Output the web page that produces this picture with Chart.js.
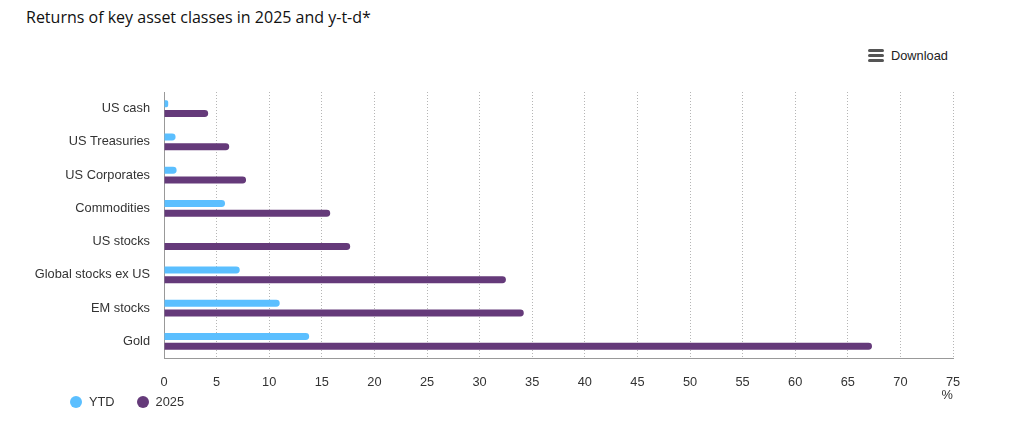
<!DOCTYPE html>
<html>
<head>
<meta charset="utf-8">
<script src="https://cdn.jsdelivr.net/npm/chart.js@4"></script>
<style>
  html, body { margin: 0; padding: 0; background: #fff; }
  body { width: 1017px; height: 434px; position: relative; overflow: hidden; }
  #title { position: absolute; left: 26px; top: 6px; font-family: "Open Sans", sans-serif; font-size: 16px; color: #111; white-space: nowrap; }
  #download { position: absolute; left: 868px; top: 48px; font-family: "Liberation Sans", Arial, sans-serif; font-size: 12.8px; color: #222; display: flex; align-items: center; }
  #download .icon { width: 16px; height: 13px; margin-right: 7px; display: flex; flex-direction: column; justify-content: space-between; }
  #download .icon span { display: block; height: 3px; background: #555; border-radius: 1.5px; }
  #wrap { position: absolute; left: 0; top: 0; width: 1017px; height: 434px; }
  #legend { position: absolute; left: 70px; top: 394px; font-family: "Liberation Sans", Arial, sans-serif; font-size: 12.8px; color: #333; display: flex; }
  .li { display: flex; align-items: center; margin-right: 22px; }
  .dot { width: 12px; height: 12px; border-radius: 50%; margin-right: 7px; }
</style>
</head>
<body>
<div id="title">Returns of key asset classes in 2025 and y-t-d*</div>
<div id="download"><div class="icon"><span></span><span></span><span></span></div>Download</div>
<div id="wrap"><canvas id="c" width="1017" height="434"></canvas></div>
<div id="legend"></div>
<script>
const categories = ["US cash", "US Treasuries", "US Corporates", "Commodities", "US stocks", "Global stocks ex US", "EM stocks", "Gold"];
const ytdValues = [0.4, 1.1, 1.2, 5.8, 0, 7.2, 11.0, 13.8];
const y2025Values = [4.2, 6.2, 7.8, 15.8, 17.7, 32.5, 34.2, 67.3];
const seriesNames = ["YTD", "2025"];
const seriesColors = ["#5bbfff", "#653a7a"];
const xTicks = [0, 5, 10, 15, 20, 25, 30, 35, 40, 45, 50, 55, 60, 65, 70, 75];
const unitLabel = "%";

const tickFont = { family: "'Liberation Sans', Arial, sans-serif", size: 12.8 };

new Chart(document.getElementById('c'), {
  type: 'bar',
  data: {
    labels: categories,
    datasets: [
      { label: seriesNames[0], data: ytdValues, backgroundColor: seriesColors[0] },
      { label: seriesNames[1], data: y2025Values, backgroundColor: seriesColors[1] }
    ]
  },
  options: {
    indexAxis: 'y',
    responsive: false,
    animation: false,
    devicePixelRatio: 1,
    layout: { padding: { left: 0, top: 92, right: 64, bottom: 31 } },
    datasets: {
      bar: { categoryPercentage: 0.6, barPercentage: 0.7, borderRadius: 3.5, borderSkipped: 'start' }
    },
    plugins: { legend: { display: false }, tooltip: { enabled: false }, title: { display: false } },
    scales: {
      x: {
        min: xTicks[0], max: xTicks[xTicks.length - 1],
        afterBuildTicks: (s) => { s.ticks = xTicks.map(v => ({ value: v })); },
        afterFit: (s) => { s.height = 45; },
        grid: { display: true, drawTicks: false, color: '#b5b5b5', lineWidth: 1 },
        border: { display: true, color: '#999', width: 1, dash: [1, 2] },
        ticks: { color: '#333', font: tickFont, padding: 17, maxRotation: 0, autoSkip: false },
        title: { display: true, text: unitLabel, align: 'end', color: '#333', font: tickFont, padding: { top: 3, bottom: 0 } }
      },
      y: {
        afterFit: (s) => { s.width = 164; },
        grid: { display: false, drawTicks: false },
        border: { display: true, color: '#999', width: 1 },
        ticks: { color: '#333', font: tickFont, padding: 14 }
      }
    }
  }
});

const legend = document.getElementById('legend');
seriesNames.forEach((n, i) => {
  const li = document.createElement('div');
  li.className = 'li';
  li.innerHTML = '<div class="dot" style="background:' + seriesColors[i] + '"></div><span>' + n + '</span>';
  legend.appendChild(li);
});
</script>
</body>
</html>
